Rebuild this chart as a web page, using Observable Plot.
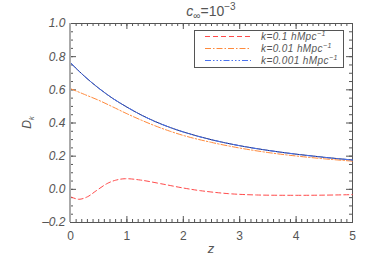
<!DOCTYPE html>
<html><head><meta charset="utf-8">
<script src="https://cdn.jsdelivr.net/npm/d3@7"></script>
<script src="https://cdn.jsdelivr.net/npm/@observablehq/plot@0.6"></script>
<style>body{margin:0;background:#fff}#chart{width:374px;height:267px}</style>
</head><body><div id="chart"></div>
<script>
// redshift grid for the k=0.01 / k=0.001 curves
const zSmooth = [0, 0.25, 0.5, 0.75, 1, 1.25, 1.5, 1.75, 2, 2.5, 3, 3.5, 4, 4.5, 5];
const dK001 = [0.763, 0.681, 0.610, 0.548, 0.496, 0.449, 0.409, 0.375, 0.346, 0.299, 0.263, 0.235, 0.212, 0.193, 0.177];
const dK01 = [0.607, 0.572, 0.537, 0.497, 0.456, 0.418, 0.383, 0.352, 0.325, 0.283, 0.249, 0.222, 0.201, 0.184, 0.170];
// k=0.1 curve
const zRed = [0, 0.15, 0.3, 0.45, 0.65, 0.8, 0.97, 1.24, 1.6, 2.0, 2.3, 2.8, 3.3, 4.0, 4.5, 5.0];
const dK1 = [-0.045, -0.06, -0.045, -0.01, 0.035, 0.055, 0.064, 0.056, 0.034, 0.008, -0.008, -0.026, -0.034, -0.036, -0.035, -0.032];

const xMajor = [0, 1, 2, 3, 4, 5];
const yMajor = [-0.2, 0, 0.2, 0.4, 0.6, 0.8, 1.0];
const xMinor = d3.range(0, 51).map(i => i / 10);
const yMinor = d3.range(-4, 21).map(i => i / 20);
const legendLabels = ["k=0.1 ", "k=0.01 ", "k=0.001 "];

const W = 374, H = 267, mL = 70, mR = 22, mT = 23, mB = 45;
const innerW = W - mL - mR, innerH = H - mT - mB;
const frameC = "#555", textC = "#555";
const red = "#ff4a4a", orange = "#ff8a3c", blue = "#4a72ee", navy = "#1e2a6e";

const tbl = (xs, ys) => xs.map((x, i) => ({x, y: ys[i]}));
const fmtY = d => (d < 0 ? "\u2013" : "") + Math.abs(d).toFixed(1);

const chart = Plot.plot({
  width: W, height: H,
  marginLeft: mL, marginRight: mR, marginTop: mT, marginBottom: mB,
  x: {domain: [0, 5]},
  y: {domain: [-0.2, 1.0]},
  style: {fontFamily: "Liberation Sans, Arial, sans-serif", background: "#fff"},
  marks: [
    Plot.tickX(xMajor, {x: d => d, insetTop: innerH - 6, stroke: frameC}),
    Plot.tickX(xMinor, {x: d => d, insetTop: innerH - 3, stroke: frameC}),
    Plot.tickX(xMajor, {x: d => d, insetBottom: innerH - 6, stroke: frameC}),
    Plot.tickX(xMinor, {x: d => d, insetBottom: innerH - 3, stroke: frameC}),
    Plot.tickY(yMajor, {y: d => d, insetRight: innerW - 6, stroke: frameC}),
    Plot.tickY(yMinor, {y: d => d, insetRight: innerW - 3, stroke: frameC}),
    Plot.tickY(yMajor, {y: d => d, insetLeft: innerW - 6, stroke: frameC}),
    Plot.tickY(yMinor, {y: d => d, insetLeft: innerW - 3, stroke: frameC}),
    Plot.frame({stroke: frameC, strokeWidth: 1}),
    Plot.axisX(xMajor, {tickSize: 0, tickPadding: 9, fontSize: 12, fill: textC, label: null, tickFormat: d => String(d)}),
    Plot.axisY(yMajor, {tickSize: 0, tickPadding: 5, fontSize: 12, fill: textC, fontStyle: "italic", label: null, tickFormat: fmtY}),
    Plot.line(tbl(zSmooth, dK01), {x: "x", y: "y", stroke: orange, strokeWidth: 1, strokeDasharray: "6,2,1.5,2", curve: "monotone-x"}),
    Plot.line(tbl(zSmooth, dK001), {x: "x", y: "y", stroke: navy, strokeWidth: 1, curve: "monotone-x"}),
    Plot.line(tbl(zSmooth, dK001), {x: "x", y: "y", stroke: blue, strokeWidth: 1, strokeDasharray: "6,2,1.5,2,1.5,2,1.5,2", curve: "monotone-x"}),
    Plot.line(tbl(zRed, dK1), {x: "x", y: "y", stroke: red, strokeWidth: 1, strokeDasharray: "5,3", curve: "catmull-rom"})
  ]
});
document.getElementById("chart").appendChild(chart);

const svg = d3.select(chart);
svg.append("line").attr("x1", mL).attr("x2", mL).attr("y1", mT).attr("y2", H - mB)
  .attr("stroke", "#aaa").attr("stroke-width", 2);

const F = "Liberation Sans, Arial, sans-serif";
// title
const t = svg.append("text").attr("x", mL + innerW / 2).attr("y", 16).attr("text-anchor", "middle")
  .attr("font-family", F).attr("font-size", 14).attr("fill", textC);
t.append("tspan").attr("font-style", "italic").text("c");
t.append("tspan").attr("font-size", 10).attr("dy", 3).text("\u221e");
t.append("tspan").attr("dy", -3).text("=10");
t.append("tspan").attr("font-size", 10).attr("dy", -6).text("\u22123");

// y label
const yl = svg.append("text").attr("transform", `translate(31,${mT + innerH / 2}) rotate(-90)`)
  .attr("text-anchor", "middle").attr("font-family", F).attr("font-size", 12).attr("fill", textC).attr("font-style", "italic");
yl.append("tspan").text("D");
yl.append("tspan").attr("font-size", 8).attr("dy", 3).text("k");

// x label
svg.append("text").attr("x", mL + innerW / 2).attr("y", 253).attr("text-anchor", "middle")
  .attr("font-family", F).attr("font-size", 13).attr("font-style", "italic").attr("fill", textC).text("z");

// legend
const lg = svg.append("g");
lg.append("rect").attr("x", 194.5).attr("y", 30.5).attr("width", 149).attr("height", 37)
  .attr("fill", "#fff").attr("stroke", frameC).attr("stroke-width", 1);
const styles = [
  {c: red, d: "5,3"},
  {c: orange, d: "6,2,1.5,2"},
  {c: blue, d: "6,2,1.5,2,1.5,2,1.5,2"}
];
legendLabels.forEach((lab, i) => {
  const y = 36.5 + i * 12;
  lg.append("line").attr("x1", 205).attr("x2", 251).attr("y1", y).attr("y2", y)
    .attr("stroke", styles[i].c).attr("stroke-width", 1).attr("stroke-dasharray", styles[i].d);
  const tx = lg.append("text").attr("x", 261).attr("y", y + 3.5).attr("text-anchor", "start").attr("font-family", F)
    .attr("font-size", 10).attr("font-style", "italic").attr("fill", textC).attr("letter-spacing", 0.4);
  tx.append("tspan").text(lab + "hMpc");
  tx.append("tspan").attr("font-size", 7).attr("dy", -4).text("\u22121");
});
</script>
</body></html>
